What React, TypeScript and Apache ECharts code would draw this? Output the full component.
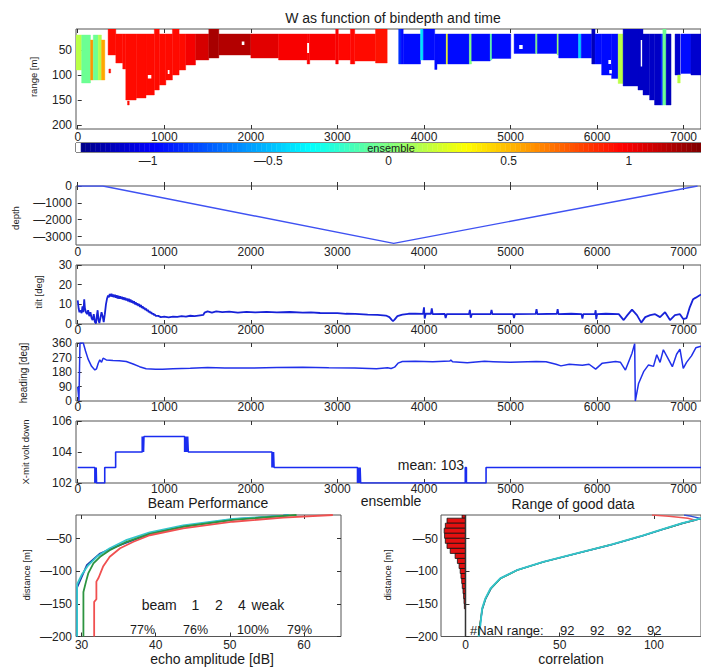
import React, { useEffect, useRef } from 'react';
import * as echarts from 'echarts';

const FONT = '"Liberation Sans", Arial, Helvetica, sans-serif';

// ---------- axes ----------
const ensembleTicks = [0, 1000, 2000, 3000, 4000, 5000, 6000, 7000];
const rangeTicks = [50, 100, 150, 200];
const colorbarTicks = [-1, -0.5, 0, 0.5, 1];
const depthTicks = [-3000, -2000, -1000, 0];
const tiltTicks = [0, 10, 20, 30];
const headingTicks = [0, 90, 180, 270, 360];
const voltTicks = [102, 104, 106];
const distTicks = [-200, -150, -100, -50];
const ampTicks = [30, 40, 50, 60];
const corrTicks = [0, 50, 100];

// ---------- W(bindepth, time): [ensStart, ensEnd, rangeTop, rangeBottom, W] ----------
const wColumns = [
  [-20, 45, 20, 90, 0.15],
  [45, 148, 20, 116, -0.05],
  [148, 179, 30, 110, 0.6],
  [179, 236, 20, 110, -0.05],
  [236, 274, 20, 110, 0.12],
  [274, 313, 30, 110, 0.55],
  [351, 440, 8, 60, 0.95],
  [440, 520, 18, 76, 0.95],
  [520, 555, 18, 88, 0.95],
  [555, 675, 18, 150, 0.95],
  [675, 789, 18, 146, 0.95],
  [789, 885, 18, 140, 0.95],
  [885, 942, 8, 130, 0.95],
  [942, 1018, 18, 120, 0.95],
  [1018, 1094, 18, 110, 0.95],
  [1094, 1171, 8, 100, 0.95],
  [1171, 1247, 18, 90, 0.95],
  [1247, 1361, 18, 80, 1.0],
  [1361, 1514, 18, 70, 1.08],
  [1514, 1630, 8, 66, 1.2],
  [1630, 2000, 18, 60, 1.17],
  [2000, 2320, 18, 66, 1.05],
  [2320, 2650, 18, 70, 0.99],
  [2650, 2680, 18, 78, 0.99],
  [2680, 2980, 18, 70, 0.99],
  [2980, 3010, 8, 78, 0.99],
  [3010, 3150, 18, 70, 0.96],
  [3150, 3200, 8, 78, 0.96],
  [3200, 3440, 18, 72, 0.95],
  [3440, 3575, 8, 76, 0.93],
  [360, 380, 88, 96, 0.95],
  [575, 595, 152, 160, 0.95],
  [3707, 3735, 8, 78, -0.85],
  [3735, 3760, 8, 78, -0.95],
  [3760, 3960, 18, 78, -0.95],
  [3960, 3992, 8, 70, -0.4],
  [3992, 4124, 8, 70, -0.95],
  [4124, 4150, 18, 89, -0.95],
  [4150, 4257, 18, 78, -0.95],
  [4257, 4276, 18, 78, 0.3],
  [4276, 4524, 18, 78, -0.95],
  [4524, 4550, 18, 78, 0.0],
  [4550, 4765, 18, 72, -0.95],
  [4765, 4785, 18, 70, -0.1],
  [4785, 5003, 18, 67, -0.95],
  [5041, 5290, 18, 57, -0.95],
  [5290, 5309, 18, 57, 0.0],
  [5309, 5537, 18, 57, -0.95],
  [5537, 5556, 18, 60, 0.05],
  [5556, 5785, 18, 66, -0.95],
  [5785, 5816, 18, 66, -0.45],
  [5816, 5938, 18, 66, -0.95],
  [5938, 5976, 8, 78, -1.15],
  [5976, 6052, 18, 78, -0.95],
  [6052, 6167, 18, 100, -0.95],
  [6167, 6243, 18, 107, -0.95],
  [6243, 6300, 18, 117, 0.15],
  [6300, 6472, 8, 122, -1.12],
  [6472, 6530, 8, 130, -1.12],
  [6530, 6606, 18, 140, -1.12],
  [6606, 6663, 18, 150, -1.12],
  [6663, 6739, 18, 160, -1.12],
  [6739, 6759, 18, 160, -0.9],
  [6759, 6797, 8, 160, -0.05],
  [6797, 6854, 18, 160, -1.15],
  [6900, 6960, 18, 100, -1.1],
  [6930, 6960, 100, 116, 0.15],
  [6969, 7084, 18, 97, -0.95],
  [7084, 7200, 18, 100, -1.1],
];
// white (no data) holes inside the coloured area: [ensStart, ensEnd, rangeTop, rangeBottom]
const wHoles = [
  [810, 850, 100, 107],
  [1040, 1060, 90, 98],
  [1895, 1925, 33, 40],
  [2650, 2672, 36, 56],
  [5100, 5140, 40, 48],
  [6130, 6160, 70, 78],
  [6140, 6170, 90, 97],
  [6504, 6520, 30, 83],
];

// ---------- depth / tilt / heading / volt : [ensemble, value] ----------
const depthData = [[0, 0], [290, 0], [3650, -3400], [7160, 0]];

const tiltData = [
  [0, 12], [10, 8], [20, 6], [32, 7], [45, 5.5], [55, 9], [65, 6], [75, 12.5], [83, 8], [95, 6], [108, 5],
  [120, 7], [134, 4], [147, 6], [160, 3], [172, 2], [185, 5], [198, 1], [211, 0.3], [220, 4], [230, 7],
  [240, 2], [250, 0.5], [262, 3], [275, 6], [288, 4], [300, 1], [313, 5], [326, 10], [339, 13], [350, 14.5],
  [360, 13.6], [370, 15.2], [380, 14], [390, 15.4], [400, 13.8], [410, 15], [420, 13.6], [430, 14.8],
  [440, 13.4], [450, 14.6], [460, 13.0], [470, 14.4], [480, 12.8], [490, 14.1], [500, 12.8], [510, 13.9],
  [520, 12.5], [530, 13.6], [540, 12.2], [550, 13.4], [560, 12.0], [570, 13.0], [580, 11.6], [590, 12.8],
  [600, 11.2], [610, 12.4], [620, 10.9], [630, 12.0], [640, 10.5], [650, 11.6], [660, 10.0], [670, 11.1],
  [680, 9.6], [690, 10.6], [700, 9.2], [710, 10.1], [720, 8.7], [730, 9.6], [740, 8.2], [750, 9.0],
  [760, 7.7], [770, 8.4], [780, 7.1], [790, 7.8], [800, 6.6], [810, 7.2], [820, 6.0], [830, 6.6],
  [840, 5.5], [850, 6.0], [860, 5.0], [870, 5.4], [880, 4.6], [890, 4.9], [900, 4.2], [930, 4.1],
  [960, 3.5], [1000, 3.7], [1050, 3.4], [1100, 3.8],
  [1150, 3.6], [1200, 4.0], [1250, 3.8], [1300, 4.2], [1350, 4.0], [1414, 4.4], [1450, 4.6], [1465, 5.8],
  [1500, 6.4], [1550, 5.8], [1600, 6.4], [1670, 6.0], [1750, 6.3], [1850, 5.8], [1950, 6.2], [2050, 5.9],
  [2182, 6.2], [2300, 5.9], [2450, 6.1], [2600, 5.8], [2694, 5.9], [2800, 5.6], [3000, 5.5], [3100, 5.2],
  [3206, 5.1], [3350, 4.8], [3463, 4.6], [3560, 4.3], [3600, 3.5], [3630, 2], [3642, 1.5], [3660, 2.2],
  [3693, 4], [3750, 4.8], [3821, 5.2], [3900, 5.3], [3990, 5.1], [4000, 8.5], [4008, 2.8], [4020, 5.2],
  [4080, 5.2], [4090, 8], [4100, 5], [4240, 5.1], [4250, 3], [4262, 5], [4520, 5], [4530, 7.2],
  [4540, 3.2], [4552, 5], [4770, 5], [4780, 7.2], [4790, 5], [5030, 5], [5040, 3], [5050, 5], [5290, 5.1],
  [5300, 7.5], [5310, 5], [5535, 5.2], [5544, 7.5], [5553, 5], [5700, 5.2], [5820, 5], [5830, 2.8],
  [5840, 5], [5975, 5], [5983, 7], [5990, 2.5], [6000, 5], [6100, 5.2], [6250, 5], [6307, 2], [6350, 4.5],
  [6403, 7.3], [6460, 4.5], [6510, 0.7], [6556, 3.5], [6613, 4.5], [6670, 5], [6727, 3.5], [6785, 6],
  [6842, 2], [6899, 4.5], [6957, 5], [6995, 2.5], [7033, 3], [7070, 8.5], [7109, 12.6], [7140, 13.4],
  [7200, 15],
];

const headingData = [
  [0, 88], [8, 40], [14, 0], [20, 180], [26, 360], [64, 360], [90, 310], [120, 260], [160, 215], [198, 193],
  [217, 200], [237, 234], [255, 255], [275, 240], [293, 266], [330, 255], [408, 252], [480, 250], [561, 245],
  [640, 230], [714, 213], [790, 200], [900, 197], [981, 197], [1100, 200], [1300, 203], [1500, 208],
  [1700, 205], [2000, 205], [2300, 208], [2600, 210], [2900, 207], [3200, 205], [3450, 200], [3580, 206],
  [3620, 202], [3660, 210], [3700, 235], [3750, 245], [3900, 246], [4100, 243], [4300, 248], [4310, 255],
  [4330, 243], [4500, 238], [4700, 246], [4800, 244], [5000, 240], [5296, 245], [5410, 243], [5525, 228],
  [5582, 218], [5678, 228], [5830, 222], [5907, 228], [5983, 198], [6060, 235], [6213, 245], [6270, 240],
  [6327, 192], [6403, 297], [6434, 355], [6441, 0], [6479, 109], [6537, 182], [6594, 224], [6651, 215],
  [6689, 287], [6727, 240], [6765, 318], [6823, 260], [6869, 213], [6918, 290], [6957, 322], [6995, 203],
  [7033, 240], [7090, 280], [7140, 330], [7200, 340],
];

const voltData = [
  [0, 103], [198, 102], [203, 103], [208, 102], [213, 103], [217, 102], [312, 103], [438, 104], [745, 105],
  [750, 104], [755, 105], [760, 104], [765, 105], [1235, 104], [1242, 105], [1249, 104], [1256, 105],
  [1263, 104], [1270, 105], [1277, 104], [2244, 103], [2250, 104], [2256, 103], [2262, 104], [2268, 103],
  [3232, 102], [3238, 103], [3244, 102], [3250, 103], [3256, 102], [3262, 103], [3268, 102], [4477, 103],
  [4490, 102], [4717, 103], [7200, 103],
];

// ---------- Beam performance: [echo amplitude dB, distance m] ----------
const beamBlue = [[29.4, -200], [29.4, -125], [30.7, -91], [32.5, -73], [34.7, -62], [39.2, -43], [43.9, -31], [50.6, -20.5], [57.2, -15], [58, -14]];
const beamCyan = [[29.4, -200], [29.4, -120], [30.0, -106], [30.9, -91], [32.05, -78], [33.8, -65], [36.1, -52], [39.2, -40.5], [43.7, -30], [50.4, -20], [57.2, -15], [58, -14]];
const beamGreen = [[30.25, -200], [30.25, -132], [30.6, -116], [30.9, -103.5], [31.6, -88], [32.5, -78], [33.8, -68], [36.1, -55], [39.2, -43], [43.7, -32], [50.4, -21.5], [57.2, -15.5], [59, -14]];
const beamRed = [[31.7, -200], [31.7, -147], [32.0, -143], [32.0, -116], [32.3, -110], [32.9, -93], [33.8, -78], [35.2, -65], [37.0, -55], [39.2, -45], [43.7, -34.6], [50.4, -24.3], [57.2, -18], [63.9, -14]];
const beamPercents = ['77%', '76%', '100%', '79%'];

// ---------- Range of good data ----------
const goodEdges = [-14, -18.9, -26.6, -34.3, -42, -49.7, -57.4, -65.1, -72.8, -80.5, -88.2, -95.9, -103.6, -111.3, -119, -126.7, -134.4, -142.1, -149.8, -157.5];
const goodCounts = [-1.8, -9.8, -10.7, -11.3, -11.1, -10.7, -9.8, -8.1, -5.5, -4.3, -3.4, -2.8, -2.4, -2.0, -1.7, -1.3, -1.0, -0.8, -0.6];
const corrRed = [[7.1, -200], [7.5, -185], [8.8, -158], [10.6, -142], [13.3, -127], [18.5, -111], [27.3, -98.5], [41.3, -85.7], [59, -72.7], [76.5, -60], [94, -45.6], [106.2, -34.6], [115.2, -26.6], [122, -22], [118, -19], [108, -16], [99, -14]];
const corrBlue = [[7.2, -200], [7.6, -185], [9, -158], [10.8, -142], [13.5, -127], [18.6, -111], [27.4, -98.5], [41.5, -85.7], [59.4, -72.7], [77, -60], [94.5, -45.6], [106.6, -34.6], [115.5, -26.6], [122.5, -21.5], [125, -19.5], [120, -16], [116, -14]];
const corrGreen = [[7, -200], [7.5, -185], [8.9, -158], [10.7, -142], [13.4, -127], [18.8, -111], [27.6, -98.5], [41.6, -85.7], [59.2, -72.7], [76.6, -60], [94.2, -45.6], [106.3, -34.6], [115.3, -26.6], [122.3, -21.5], [126, -18.5]];
const corrCyan = [[7, -200], [7.3, -190], [7.9, -183], [8.8, -157], [10.5, -142], [13.2, -126.6], [18.4, -111], [27.2, -98.5], [41.2, -85.7], [58.8, -72.7], [76.3, -60], [93.9, -45.6], [106, -34.6], [115, -26.6], [122, -21.5], [126, -18]];
const nanCounts = ['92', '92', '92', '92'];

// ---------- helpers ----------
const CB_MIN = -1.3;
const CB_MAX = 1.3;
function jet(v: number | null): string {
  if (v === null || v === undefined || isNaN(v as number)) return '#ffffff';
  const t = Math.min(1, Math.max(0, ((v as number) - CB_MIN) / (CB_MAX - CB_MIN)));
  const c = (x: number) => Math.round(255 * Math.min(1, Math.max(0, 1.5 - Math.abs(x))));
  return `rgb(${c(4 * t - 3)},${c(4 * t - 2)},${c(4 * t - 1)})`;
}
const fmt = (v: number) => (v < 0 ? '\u2014' + String(-v) : String(v));
const tickStyle = { color: '#333', width: 1 };

function axisBase(o: any) {
  return { type: 'value', splitLine: { show: false }, axisLine: { show: false }, ...o };
}
function labelled(gridIndex: number, min: number, max: number, position: string, ticks: number[], margin: number, extra: any = {}) {
  return axisBase({
    gridIndex, min, max, position,
    axisTick: { show: true, inside: true, length: 4, customValues: ticks, lineStyle: tickStyle },
    axisLabel: { show: true, customValues: ticks, margin, color: '#222', fontSize: 12, fontFamily: FONT, formatter: fmt },
    ...extra,
  });
}
function ticksOnly(gridIndex: number, min: number, max: number, position: string, ticks: number[]) {
  return axisBase({
    gridIndex, min, max, position,
    axisTick: { show: true, inside: true, length: 4, customValues: ticks, lineStyle: tickStyle },
    axisLabel: { show: false },
  });
}
function lineSeries(data: number[][], xi: number, yi: number, color: string, width: number, extra: any = {}) {
  return {
    type: 'line', xAxisIndex: xi, yAxisIndex: yi, data, showSymbol: false, symbol: 'none',
    lineStyle: { color, width }, itemStyle: { color }, silent: true, animation: false, ...extra,
  };
}
function txt(text: string, x: number, y: number, size: number, align = 'center', rot = 0) {
  return {
    type: 'text', x, y, rotation: rot, z: 100, silent: true,
    style: {
      text, fill: '#1a1a1a', fontSize: size, fontFamily: FONT,
      align, verticalAlign: 'middle', textAlign: align, textVerticalAlign: 'middle',
    },
  };
}

function buildOption() {
  const ENS_MIN = -20;
  const ENS_MAX = 7200;
  const L = 76;
  const W = 631;
  const grids = [
    { left: L, top: 29, width: W, height: 100 },   // 0 W
    { left: L, top: 143, width: 667, height: 9 },  // 1 colorbar
    { left: L, top: 186, width: W, height: 59 },   // 2 depth
    { left: L, top: 265, width: W, height: 59 },   // 3 tilt
    { left: L, top: 343, width: W, height: 58 },   // 4 heading
    { left: L, top: 421, width: W, height: 62 },   // 5 volt
    { left: L, top: 515, width: 265, height: 121.5 }, // 6 beam
    { left: 441, top: 515, width: 262, height: 121.5 }, // 7 good
  ].map((g, i) => ({
    ...g, show: true, backgroundColor: '#fff',
    borderColor: i === 1 ? '#111' : '#555', borderWidth: 1, containLabel: false,
  }));

  const xAxis = [
    labelled(0, ENS_MIN, ENS_MAX, 'bottom', ensembleTicks, 2),          // 0
    ticksOnly(0, ENS_MIN, ENS_MAX, 'top', ensembleTicks),               // 1
    axisBase({                                                          // 2 colorbar
      gridIndex: 1, min: CB_MIN, max: CB_MAX, position: 'bottom',
      axisTick: { show: true, inside: true, length: 9, customValues: colorbarTicks, lineStyle: { color: '#111', width: 1 } },
      axisLabel: { show: true, customValues: colorbarTicks, margin: 3, color: '#222', fontSize: 12, fontFamily: FONT, formatter: fmt },
    }),
    labelled(2, ENS_MIN, ENS_MAX, 'bottom', ensembleTicks, 1),          // 3
    ticksOnly(2, ENS_MIN, ENS_MAX, 'top', ensembleTicks),               // 4
    labelled(3, ENS_MIN, ENS_MAX, 'bottom', ensembleTicks, 0),          // 5
    ticksOnly(3, ENS_MIN, ENS_MAX, 'top', ensembleTicks),               // 6
    labelled(4, ENS_MIN, ENS_MAX, 'bottom', ensembleTicks, 0),          // 7
    ticksOnly(4, ENS_MIN, ENS_MAX, 'top', ensembleTicks),               // 8
    labelled(5, ENS_MIN, ENS_MAX, 'bottom', ensembleTicks, 0),          // 9
    ticksOnly(5, ENS_MIN, ENS_MAX, 'top', ensembleTicks),               // 10
    labelled(6, 29.25, 65, 'bottom', ampTicks, 2),                      // 11
    ticksOnly(6, 29.25, 65, 'top', ampTicks),                           // 12
    labelled(7, -13, 125, 'bottom', corrTicks, 2),                      // 13
    ticksOnly(7, -13, 125, 'top', corrTicks),                           // 14
  ];
  const yAxis = [
    labelled(0, 8, 208, 'left', rangeTicks, 4, { inverse: true }),      // 0
    axisBase({ gridIndex: 1, min: 0, max: 1, show: false }),            // 1
    labelled(2, -3500, 0, 'left', depthTicks, 4),                       // 2
    labelled(3, 0, 30, 'left', tiltTicks, 4),                           // 3
    labelled(4, 0, 360, 'left', headingTicks, 4),                       // 4
    labelled(5, 102, 106, 'left', voltTicks, 4),                        // 5
    labelled(6, -200, -14, 'left', distTicks, 4),                       // 6
    labelled(7, -200, -14, 'left', distTicks, 3),                       // 7
    ticksOnly(6, -200, -14, 'right', distTicks),                        // 8
  ];

  const cbN = 128;
  const cbStep = (CB_MAX - CB_MIN) / cbN;
  const cbCells = Array.from({ length: cbN }, (_, i) => {
    const x0 = CB_MIN + i * cbStep;
    return [x0, x0 + cbStep, x0 + cbStep / 2];
  });
  cbCells.push([CB_MIN, CB_MIN + 0.019, NaN]);

  const series: any[] = [
    {
      type: 'custom', xAxisIndex: 0, yAxisIndex: 0, data: wColumns, clip: true, silent: true,
      encode: { x: [0, 1], y: [2, 3] },
      renderItem: (_p: any, api: any) => {
        const a = api.coord([api.value(0), api.value(2)]);
        const b = api.coord([api.value(1), api.value(3)]);
        const fill = jet(api.value(4));
        return {
          type: 'rect',
          shape: { x: a[0], y: Math.min(a[1], b[1]), width: b[0] - a[0], height: Math.abs(b[1] - a[1]) },
          style: { fill, stroke: fill, lineWidth: 0.4 },
        };
      },
    },
    {
      type: 'custom', xAxisIndex: 0, yAxisIndex: 0, data: wHoles, clip: true, silent: true,
      encode: { x: [0, 1], y: [2, 3] },
      renderItem: (_p: any, api: any) => {
        const a = api.coord([api.value(0), api.value(2)]);
        const b = api.coord([api.value(1), api.value(3)]);
        return {
          type: 'rect',
          shape: { x: a[0], y: Math.min(a[1], b[1]), width: b[0] - a[0], height: Math.abs(b[1] - a[1]) },
          style: { fill: '#fff' },
        };
      },
    },
    {
      type: 'custom', xAxisIndex: 2, yAxisIndex: 1, data: cbCells, clip: true, silent: true,
      encode: { x: [0, 1] },
      renderItem: (_p: any, api: any) => {
        const a = api.coord([api.value(0), 1]);
        const b = api.coord([api.value(1), 0]);
        const fill = jet(api.value(2));
        return {
          type: 'rect',
          shape: { x: a[0], y: a[1], width: b[0] - a[0], height: b[1] - a[1] },
          style: { fill, stroke: fill, lineWidth: 0.4 },
        };
      },
    },
    lineSeries(depthData, 3, 2, '#3f52f2', 1.4),
    lineSeries(tiltData, 5, 3, '#1722d8', 1.8),
    lineSeries(headingData, 7, 4, '#2030ea', 1.5),
    lineSeries(voltData, 9, 5, '#1a2cf0', 1.6, { step: 'end' }),
    lineSeries(beamBlue, 11, 6, '#1b3aa8', 1.8),
    lineSeries(beamCyan, 11, 6, '#35c6cc', 1.8),
    lineSeries(beamGreen, 11, 6, '#2d9440', 1.8),
    lineSeries(beamRed, 11, 6, '#f05050', 1.8),
    {
      type: 'custom', xAxisIndex: 13, yAxisIndex: 7, clip: true, silent: true,
      data: goodCounts.map((c, i) => [c, goodEdges[i], goodEdges[i + 1]]),
      encode: { x: [0], y: [1, 2] },
      renderItem: (_p: any, api: any) => {
        const a = api.coord([api.value(0), api.value(1)]);
        const b = api.coord([0, api.value(2)]);
        return {
          type: 'rect',
          shape: { x: a[0], y: a[1], width: b[0] - a[0], height: b[1] - a[1] },
          style: { fill: '#e31010', stroke: '#111', lineWidth: 0.8 },
        };
      },
    },
    lineSeries([[0, -14], [0, -200]], 13, 7, '#333', 1.5),
    lineSeries(corrRed, 13, 7, '#ee5555', 1.4),
    lineSeries(corrBlue, 13, 7, '#3553d6', 1.4),
    lineSeries(corrGreen, 13, 7, '#2e9a46', 1.4),
    lineSeries(corrCyan, 13, 7, '#33c4cc', 1.8),
  ];

  const R = Math.PI / 2;
  const graphicEls: any[] = [
    txt('W as function of bindepth and time', 393, 18, 14),
    txt('ensemble', 391, 148, 11),
    txt('ensemble', 391, 501, 14),
    txt('Beam Performance', 208, 503, 14),
    txt('Range of good data', 573, 504, 14),
    txt('echo amplitude [dB]', 212, 659, 14),
    txt('correlation', 571, 659, 14),
    txt('mean: 103', 464, 465, 14, 'right'),
    txt('range [m]', 33, 77, 9.5, 'center', R),
    txt('depth', 15, 218, 9.5, 'center', R),
    txt('tilt [deg]', 38, 292, 9.5, 'center', R),
    txt('heading [deg]', 23, 373, 10, 'center', R),
    txt('X-mit volt down', 25, 452, 9.5, 'center', R),
    txt('distance [m]', 26, 575, 9.5, 'center', R),
    txt('distance [m]', 387, 575, 9.5, 'center', R),
    txt('beam', 141.7, 605, 14, 'left'),
    txt('1', 191.5, 605, 14, 'left'),
    txt('2', 215, 605, 14, 'left'),
    txt('4', 238, 605, 14, 'left'),
    txt('weak', 251.5, 605, 14, 'left'),
    txt('#NaN range:', 470, 630, 13, 'left'),
  ];
  const pctX = [130, 183, 237, 287];
  beamPercents.forEach((p, i) => graphicEls.push(txt(p, pctX[i], 630, 12.5, 'left')));
  const nanX = [560, 590, 617, 647];
  nanCounts.forEach((p, i) => graphicEls.push(txt(p, nanX[i], 630, 13, 'left')));

  return {
    animation: false,
    backgroundColor: '#fff',
    grid: grids,
    xAxis,
    yAxis,
    series,
    graphic: { elements: graphicEls },
  };
}

export default function App() {
  const ref = useRef<HTMLDivElement>(null);
  useEffect(() => {
    document.body.style.margin = '0';
    const chart = echarts.init(ref.current as HTMLDivElement, undefined, { renderer: 'svg' });
    chart.setOption(buildOption() as any);
    return () => chart.dispose();
  }, []);
  return <div ref={ref} style={{ width: 701, height: 668, background: '#fff', overflow: 'hidden' }} />;
}
